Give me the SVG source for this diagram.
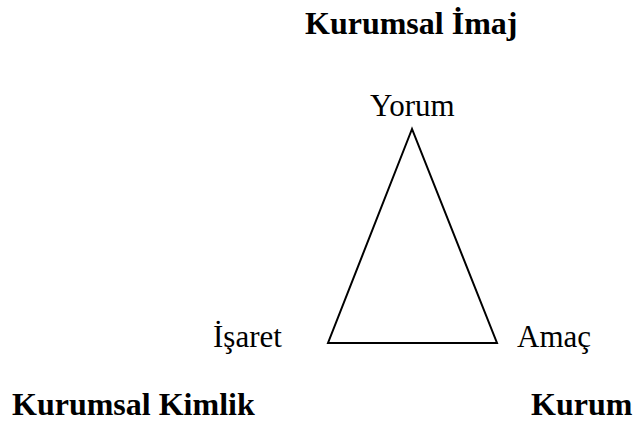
<svg xmlns="http://www.w3.org/2000/svg" width="635" height="423" viewBox="0 0 635 423">
<style>
.b{font-family:"Liberation Serif","Times New Roman",serif;font-weight:bold;font-size:32px;fill:#000}
.r{font-family:"Liberation Serif","Times New Roman",serif;font-size:31px;fill:#000}
.e{fill:none;stroke:#000;stroke-width:2;stroke-linejoin:miter}
</style>
<rect width="635" height="423" fill="#fff"/>
<text class="b" x="305" y="34">Kurumsal İmaj</text>
<g id="connectors">
<polygon class="e" points="412,129 328,343 497,343"/>
</g>
<g id="yorum"><text class="r" x="370" y="116">Yorum</text></g>
<g id="isaret"><text class="r" x="213" y="347">İşaret</text></g>
<g id="amac"><text class="r" x="517" y="347">Amaç</text></g>
<g id="kimlik"><text class="b" x="12" y="415">Kurumsal Kimlik</text></g>
<g id="kurum"><text class="b" x="531" y="415">Kurum</text></g>
</svg>
